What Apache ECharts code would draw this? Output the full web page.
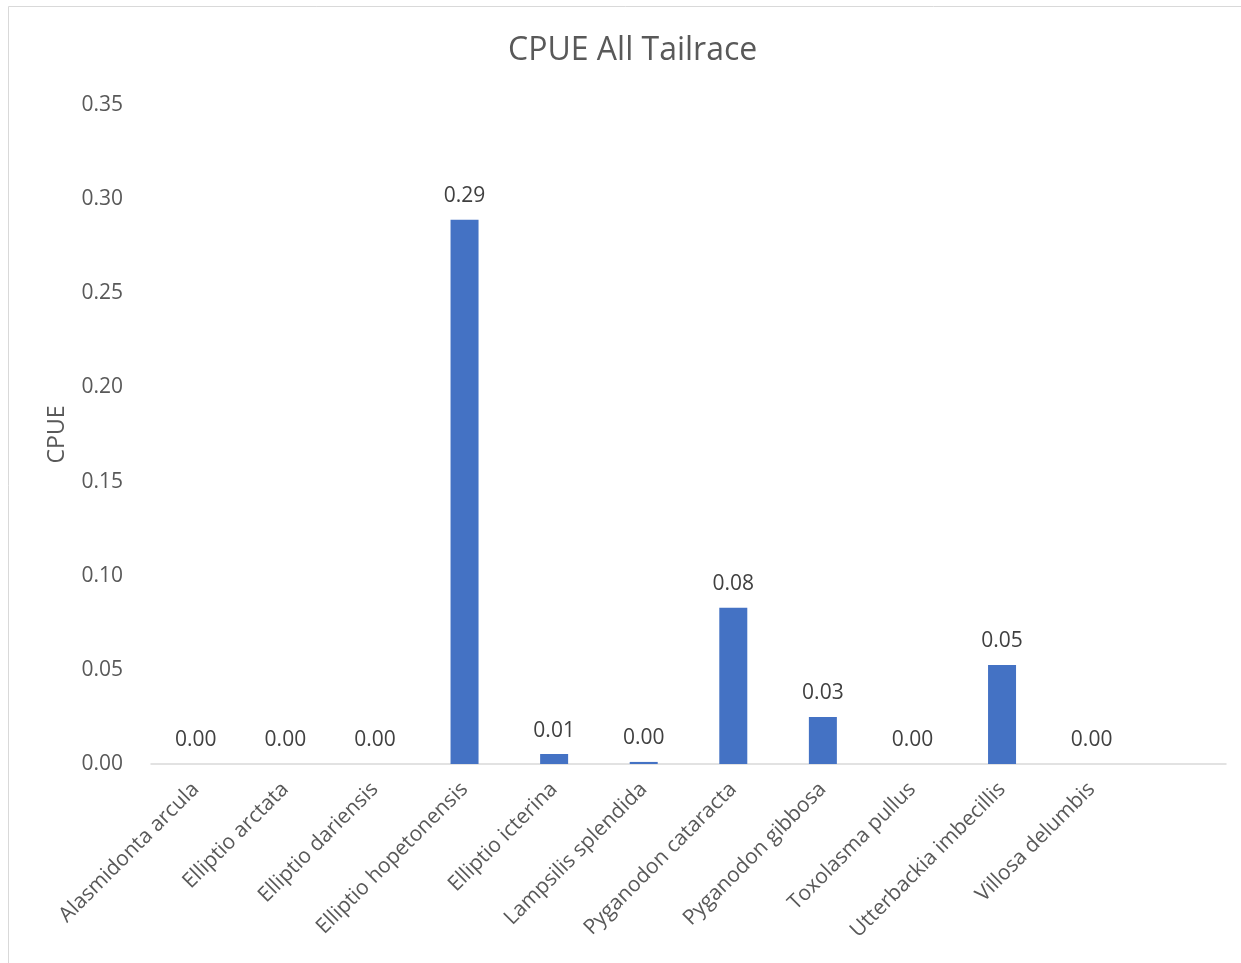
<!DOCTYPE html>
<html><head><meta charset="utf-8">
<script src="https://cdn.jsdelivr.net/npm/echarts@6/dist/echarts.min.js"></script>
<style>html,body{margin:0;padding:0;background:#fff;}#c{width:1241px;height:963px;}</style>
</head><body><div id="c"></div>
<script>
const categories = ["Alasmidonta arcula","Elliptio arctata","Elliptio dariensis","Elliptio hopetonensis","Elliptio icterina","Lampsilis splendida","Pyganodon cataracta","Pyganodon gibbosa","Toxolasma pullus","Utterbackia imbecillis","Villosa delumbis",""];
const cpue = [0, 0, 0, 0.289, 0.0053, 0.0011, 0.083, 0.025, 0, 0.0526, 0, null];
const yTicks = [0, 0.05, 0.10, 0.15, 0.20, 0.25, 0.30, 0.35];
const chart = echarts.init(document.getElementById('c'), null, {renderer:'canvas'});
const font = '"Open Sans", "Noto Sans", sans-serif';
chart.setOption({
  animation:false,
  backgroundColor:'#fff',
  title:{text:'CPUE All Tailrace', left:503, top:30, textStyle:{fontFamily:font, fontSize:32, fontWeight:'normal', color:'#595959'}},
  graphic:[{type:'rect', shape:{x:8.5, y:6.5, width:1240, height:960}, style:{fill:'none', stroke:'#d9d9d9', lineWidth:1}, silent:true}],
  grid:{left:151, right:15, top:105, bottom:199, containLabel:false},
  xAxis:{type:'category', data:categories,
    axisLine:{lineStyle:{color:'#d9d9d9', width:1.5}}, axisTick:{show:false},
    axisLabel:{rotate:45, interval:0, fontFamily:font, fontSize:21, color:'#595959', margin:22}},
  yAxis:{type:'value', min:0, max:0.35, interval:0.05,
    name:'CPUE', nameLocation:'middle', nameGap:82, nameRotate:90,
    nameTextStyle:{fontFamily:font, fontSize:23, color:'#595959'},
    axisLine:{show:false}, axisTick:{show:false}, splitLine:{show:false},
    axisLabel:{fontFamily:font, fontSize:21, color:'#595959', margin:28, formatter:v=>v.toFixed(2)}},
  series:[{type:'bar', data:cpue, barWidth:28, itemStyle:{color:'#4472C4'},
    label:{show:true, position:'top', distance:13, fontFamily:font, fontSize:21, color:'#404040',
      formatter:p=>p.value==null?'':p.value.toFixed(2)}}]
});
</script></body></html>
